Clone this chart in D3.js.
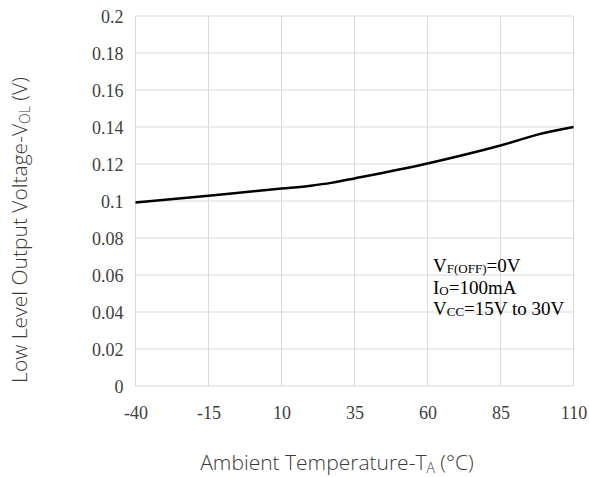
<!DOCTYPE html>
<html>
<head>
<meta charset="utf-8">
<script src="https://cdn.jsdelivr.net/npm/d3@7"></script>
<style>
	body { margin: 0; background: #fff; }
	.tick text { font-family: "Liberation Serif", serif; font-size: 18px; fill: #404040; }
	.title { font-family: "Open Sans", sans-serif; font-weight: 300; fill: #3a3a3a; }
	.note { font-family: "Liberation Serif", serif; font-size: 19px; fill: #000; }
</style>
</head>
<body>
<div id="chart"></div>
<script>
const temps = [-40, -15, 10, 20, 27, 35, 60, 85, 98, 110]
const vol = [0.0992, 0.1029, 0.1067, 0.1083, 0.1098, 0.1122, 0.1203, 0.1300, 0.1360, 0.1400]
const xTicks = [-40, -15, 10, 35, 60, 85, 110]
const yTicks = [0, 0.02, 0.04, 0.06, 0.08, 0.1, 0.12, 0.14, 0.16, 0.18, 0.2]

const W = 589, H = 477
const margin = { top: 16, right: 15.5, bottom: 91, left: 135.5 }
const width = W - margin.left - margin.right
const height = H - margin.top - margin.bottom

const svg = d3.select("#chart").append("svg")
	.attr("width", W)
	.attr("height", H)

const g = svg.append("g")
	.attr("transform", "translate(" + margin.left + "," + margin.top + ")")

const x = d3.scaleLinear().domain([-40, 110]).range([0, width])
const y = d3.scaleLinear().domain([0, 0.2]).range([height, 0])

// grid
g.append("g")
	.selectAll("line")
	.data(xTicks)
	.enter().append("line")
	.attr("x1", d => x(d)).attr("x2", d => x(d))
	.attr("y1", 0).attr("y2", height)
	.attr("stroke", "#d9d9d9")

g.append("g")
	.selectAll("line")
	.data(yTicks)
	.enter().append("line")
	.attr("x1", 0).attr("x2", width)
	.attr("y1", d => y(d)).attr("y2", d => y(d))
	.attr("stroke", "#d9d9d9")

// axes (labels only), plain hyphen for negatives
const xAxis = g.append("g")
	.attr("transform", "translate(0," + height + ")")
	.call(d3.axisBottom(x).tickValues(xTicks).tickSize(0).tickPadding(20).tickFormat(d => String(d)))
xAxis.select(".domain").remove()

const yAxis = g.append("g")
	.call(d3.axisLeft(y).tickValues(yTicks).tickSize(0).tickPadding(12).tickFormat(d => String(+d.toFixed(2))))
yAxis.select(".domain").remove()
yAxis.selectAll("text").attr("dy", "0.36em")

// curve
const line = d3.line()
	.x((d, i) => x(temps[i]))
	.y(d => y(d))
	.curve(d3.curveCatmullRom.alpha(0.5))

g.append("path")
	.datum(vol)
	.attr("fill", "none")
	.attr("stroke", "#000")
	.attr("stroke-width", 2.5)
	.attr("d", line)

// conditions note
const note = svg.append("text").attr("class", "note")
const l1 = note.append("tspan").attr("x", 433).attr("y", 272)
l1.append("tspan").text("V")
l1.append("tspan").attr("font-size", 13).attr("dy", 1).text("F(OFF)")
l1.append("tspan").attr("dy", -1).text("=0V")
const l2 = note.append("tspan").attr("x", 433).attr("y", 294)
l2.append("tspan").text("I")
l2.append("tspan").attr("font-size", 13).attr("dy", 1).text("O")
l2.append("tspan").attr("dy", -1).text("=100mA")
const l3 = note.append("tspan").attr("x", 433).attr("y", 315)
l3.append("tspan").text("V")
l3.append("tspan").attr("font-size", 13).attr("dy", 1).text("CC")
l3.append("tspan").attr("dy", -1).text("=15V to 30V")

// axis titles
const xt = svg.append("text").attr("class", "title")
	.attr("font-size", 21)
	.attr("x", 337).attr("y", 470).attr("text-anchor", "middle")
xt.append("tspan").text("Ambient Temperature-T")
xt.append("tspan").attr("font-size", 14).attr("dy", 3).text("A")
xt.append("tspan").attr("dy", -3).text(" (°C)")

const yt = svg.append("text").attr("class", "title")
	.attr("font-size", 21)
	.attr("transform", "translate(27,230) rotate(-90)")
	.attr("text-anchor", "middle")
yt.append("tspan").text("Low Level Output Voltage-V")
yt.append("tspan").attr("font-size", 14).attr("dy", 3).text("OL")
yt.append("tspan").attr("dy", -3).text(" (V)")
</script>
</body>
</html>
